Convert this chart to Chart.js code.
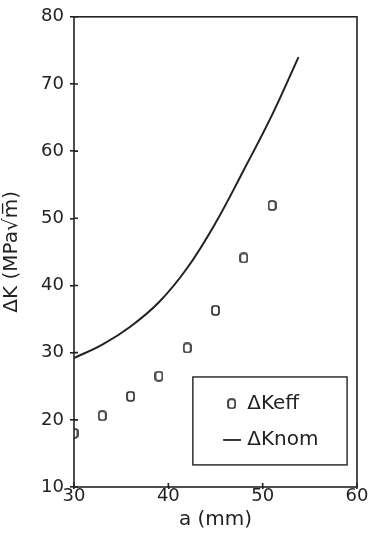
<!doctype html>
<html lang="en">
<head>
  <meta charset="utf-8">
  <title>dK vs a</title>
  <style>
    * { margin: 0; padding: 0; }
    body { background: #fff; }
    .chart-container { position: absolute; left: 0; top: 0; width: 371px; height: 545px; }
  </style>
</head>
<body>
  <div class="chart-container">
    <canvas id="myChart"></canvas>
  </div>

  <script src="https://cdn.jsdelivr.net/npm/chart.js"></script>
  <script>
    // crack length a (mm) and stress intensity ranges
    const effLength = [30, 33, 36, 39, 42, 45, 48, 51];
    const kEff = [18.0, 20.6, 23.5, 26.5, 30.7, 36.3, 44.1, 51.9];
    const nomLength = [30, 33, 36, 39, 42, 45, 48, 51, 53.8];
    const kNom = [29.2, 31.2, 33.9, 37.5, 42.6, 49.3, 57.2, 65.4, 74.0];
    const seriesNames = ['\u0394Keff', '\u0394Knom'];

    const ink = '#222';
    const font = 'DejaVu Sans';

    // little rounded "o" marker
    const marker = document.createElement('canvas');
    marker.width = 9;
    marker.height = 11;
    const mctx = marker.getContext('2d');
    mctx.strokeStyle = ink;
    mctx.lineWidth = 1.6;
    mctx.beginPath();
    mctx.roundRect(1, 1, 7, 9, 2.5);
    mctx.stroke();

    const framePlugin = {
      id: 'frame',
      afterDraw(chart) {
        const { ctx, chartArea: a, scales } = chart;
        ctx.save();
        ctx.strokeStyle = ink;
        ctx.lineWidth = 1.6;
        ctx.strokeRect(a.left, a.top, a.right - a.left, a.bottom - a.top);
        // inner tick marks
        ctx.beginPath();
        scales.x.ticks.forEach(t => {
          const px = scales.x.getPixelForValue(t.value);
          ctx.moveTo(px, a.bottom);
          ctx.lineTo(px, a.bottom - 4);
        });
        scales.y.ticks.forEach(t => {
          const py = scales.y.getPixelForValue(t.value);
          ctx.moveTo(a.left, py);
          ctx.lineTo(a.left + 4, py);
        });
        ctx.stroke();

        // legend box in lower right
        const w = a.right - a.left, h = a.bottom - a.top;
        const bx = a.left + w * 0.42, bx2 = a.left + w * 0.965;
        const by = a.top + h * 0.766, by2 = a.top + h * 0.953;
        ctx.lineWidth = 1.4;
        ctx.strokeRect(bx, by, bx2 - bx, by2 - by);
        const tx = a.left + w * 0.612;
        const y1 = a.top + h * 0.823, y2 = a.top + h * 0.9;
        ctx.drawImage(marker, a.left + w * 0.557 - 4.5, y1 - 5.5);
        ctx.lineWidth = 1.8;
        ctx.beginPath();
        ctx.moveTo(a.left + w * 0.527, y2);
        ctx.lineTo(a.left + w * 0.59, y2);
        ctx.stroke();
        ctx.fillStyle = ink;
        ctx.font = '20px "' + font + '"';
        ctx.textBaseline = 'middle';
        ctx.fillText(seriesNames[0], tx, y1);
        ctx.fillText(seriesNames[1], tx, y2);
        ctx.restore();
      }
    };

    const data = {
      datasets: [{
        label: seriesNames[0],
        data: effLength.map((x, i) => ({ x, y: kEff[i] })),
        pointStyle: marker,
        pointRadius: 5,
        showLine: false
      }, {
        label: seriesNames[1],
        data: nomLength.map((x, i) => ({ x, y: kNom[i] })),
        showLine: true,
        borderColor: ink,
        borderWidth: 2,
        pointRadius: 0,
        tension: 0.4
      }]
    };

    const config = {
      type: 'scatter',
      data,
      plugins: [framePlugin],
      options: {
        responsive: true,
        maintainAspectRatio: false,
        animation: false,
        layout: { padding: { top: 16, right: 14, left: 0, bottom: 0 } },
        plugins: { legend: { display: false }, tooltip: { enabled: false } },
        scales: {
          x: {
            type: 'linear',
            min: 30, max: 60,
            ticks: { stepSize: 10, color: ink, padding: -3, font: { family: font, size: 18 } },
            grid: { drawOnChartArea: false, color: ink, lineWidth: 1.6, tickLength: 2 },
            border: { display: false },
            title: { display: true, text: 'a (mm)', color: ink, font: { family: font, size: 20 }, padding: { top: 0, bottom: 13 } },
            afterFit(s) { s.height = 58; }
          },
          y: {
            min: 10, max: 80,
            ticks: { stepSize: 10, color: ink, padding: 6, font: { family: font, size: 18 } },
            grid: { drawOnChartArea: false, color: ink, lineWidth: 1.6, tickLength: 4 },
            border: { display: false },
            title: { display: true, text: '\u0394K (MPa\u221Am\u0305)', color: ink, font: { family: font, size: 20 }, padding: { top: 0, bottom: 12 } },
            afterFit(s) { s.width = 74; }
          }
        }
      }
    };

    const myChart = new Chart(document.getElementById('myChart'), config);
  </script>
</body>
</html>
